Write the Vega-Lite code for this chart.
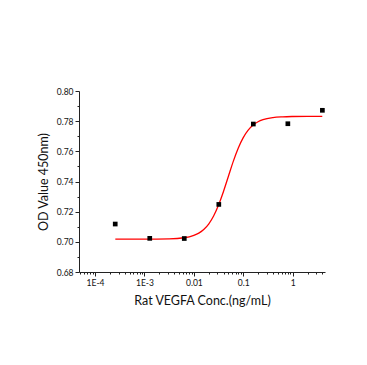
{
  "$schema": "https://vega.github.io/schema/vega-lite/v6.json",
  "autosize": {"type": "none"},
  "padding": {"left": 79, "top": 91, "right": 42, "bottom": 93},
  "width": 246,
  "height": 181,
  "background": "white",
  "config": {"view": {"stroke": null}, "font": "Lato"},
  "datasets": {
    "curve": [
      {"conc": 0.000257, "od": 0.7018},
      {"conc": 0.001, "od": 0.7018},
      {"conc": 0.003162, "od": 0.7020},
      {"conc": 0.00631, "od": 0.7027},
      {"conc": 0.01, "od": 0.7043},
      {"conc": 0.01259, "od": 0.7058},
      {"conc": 0.01585, "od": 0.7082},
      {"conc": 0.01995, "od": 0.7118},
      {"conc": 0.02512, "od": 0.7171},
      {"conc": 0.03162, "od": 0.7244},
      {"conc": 0.03981, "od": 0.7334},
      {"conc": 0.05012, "od": 0.7435},
      {"conc": 0.0631, "od": 0.7535},
      {"conc": 0.07943, "od": 0.7622},
      {"conc": 0.1, "od": 0.7691},
      {"conc": 0.1259, "od": 0.7740},
      {"conc": 0.1585, "od": 0.7774},
      {"conc": 0.1995, "od": 0.7796},
      {"conc": 0.2512, "od": 0.7810},
      {"conc": 0.3981, "od": 0.7824},
      {"conc": 0.631, "od": 0.7829},
      {"conc": 1, "od": 0.7831},
      {"conc": 1.995, "od": 0.7832},
      {"conc": 3.981, "od": 0.7832}
    ],
    "points": [
      {"conc": 0.000256, "od": 0.7118},
      {"conc": 0.00128, "od": 0.7023},
      {"conc": 0.0064, "od": 0.7022},
      {"conc": 0.032, "od": 0.7248},
      {"conc": 0.16, "od": 0.7781},
      {"conc": 0.8, "od": 0.7783},
      {"conc": 4, "od": 0.7872}
    ]
  },
  "layer": [
    {
      "data": {"name": "curve"},
      "mark": {"type": "line", "color": "#ff0000", "strokeWidth": 1.3, "interpolate": "monotone"},
      "encoding": {
        "x": {
          "field": "conc", "type": "quantitative",
          "scale": {"type": "log", "domain": [0.0000473, 4.52], "nice": false},
          "axis": {
            "values": [0.0001, 0.001, 0.01, 0.1, 1],
            "labelExpr": "datum.value < 0.0005 ? '1E-4' : datum.value < 0.005 ? '1E-3' : datum.value < 0.05 ? '0.01' : datum.value < 0.5 ? '0.1' : '1'",
            "title": "Rat VEGFA Conc.(ng/mL)",
            "titleFont": "Lato", "titleFontSize": 12.5, "titleFontWeight": "normal", "titleColor": "#111",
            "titlePadding": 8,
            "labelFont": "Lato", "labelFontSize": 8.5, "labelColor": "#111", "labelPadding": 2,
            "tickSize": 4, "tickColor": "#222", "domainColor": "#222", "grid": false, "labelFlush": false
          }
        },
        "y": {
          "field": "od", "type": "quantitative",
          "scale": {"domain": [0.68, 0.80], "nice": false, "zero": false},
          "axis": {
            "values": [0.68, 0.70, 0.72, 0.74, 0.76, 0.78, 0.80],
            "format": ".2f",
            "title": "OD Value 450nm)",
            "titleFont": "Lato", "titleFontSize": 12.5, "titleFontWeight": "normal", "titleColor": "#111",
            "titlePadding": 6,
            "labelFont": "Lato", "labelFontSize": 8.5, "labelColor": "#111", "labelPadding": 2,
            "tickSize": 4, "tickColor": "#222", "domainColor": "#222", "grid": false
          }
        }
      }
    },
    {
      "data": {"name": "points"},
      "mark": {"type": "point", "shape": "square", "filled": true, "color": "#000", "size": 22, "opacity": 1},
      "encoding": {
        "x": {
          "field": "conc", "type": "quantitative",
          "scale": {"type": "log", "domain": [0.0000473, 4.52], "nice": false},
          "axis": {
            "orient": "bottom",
            "values": [0.00005, 0.00006, 0.00007, 0.00008, 0.00009, 0.0002, 0.0003, 0.0004, 0.0005, 0.0006, 0.0007, 0.0008, 0.0009, 0.002, 0.003, 0.004, 0.005, 0.006, 0.007, 0.008, 0.009, 0.02, 0.03, 0.04, 0.05, 0.06, 0.07, 0.08, 0.09, 0.2, 0.3, 0.4, 0.5, 0.6, 0.7, 0.8, 0.9, 2, 3, 4],
            "labels": false, "title": null, "domain": false,
            "tickSize": 2, "tickColor": "#222", "grid": false
          }
        },
        "y": {
          "field": "od", "type": "quantitative",
          "scale": {"domain": [0.68, 0.80], "nice": false, "zero": false},
          "axis": {
            "orient": "left",
            "values": [0.69, 0.71, 0.73, 0.75, 0.77, 0.79],
            "labels": false, "title": null, "domain": false,
            "tickSize": 2, "tickColor": "#222", "grid": false
          }
        }
      }
    }
  ],
  "resolve": {"axis": {"x": "independent", "y": "independent"}}
}
